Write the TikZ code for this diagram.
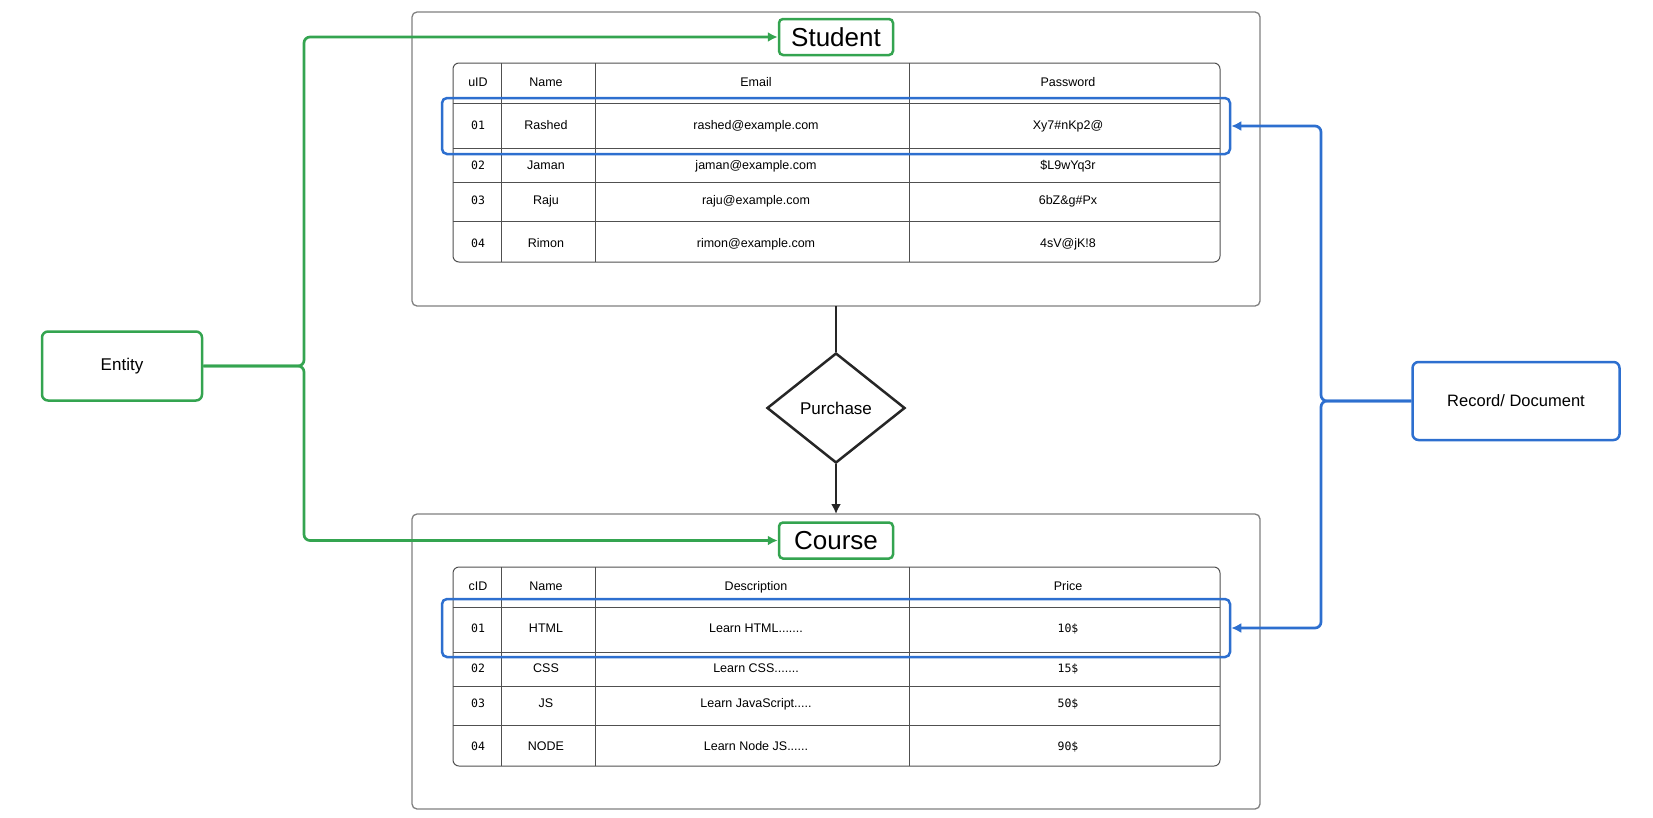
\documentclass[tikz,border=0pt]{standalone}
\usepackage{fontspec}
\setmainfont{Liberation Sans}
\newfontfamily\idfont{DejaVu Sans Mono}
\usetikzlibrary{shapes.geometric,arrows.meta}

\definecolor{entgreen}{RGB}{52,164,80}
\definecolor{recblue}{RGB}{45,111,207}
\definecolor{framegray}{RGB}{128,128,128}
\definecolor{linegray}{RGB}{80,80,80}

\tikzset{
  frame/.style={draw=framegray,line width=1.3pt,rounded corners=5pt,outer sep=0pt},
  tablebox/.style={draw=linegray,line width=1pt,rounded corners=6pt},
  tableline/.style={draw=linegray,line width=0.9pt},
  cell/.style={font=\fontsize{12.5}{14}\selectfont,inner sep=0pt,text height=9pt,text depth=2.5pt},
  idcell/.style={font=\idfont\fontsize{11.5}{14}\selectfont,inner sep=0pt,text height=9pt,text depth=2.5pt},
  title/.style={draw=entgreen,fill=white,line width=2.5pt,rounded corners=4pt,
    font=\fontsize{26}{30}\selectfont,minimum width=114pt,minimum height=36pt,inner sep=0pt},
  greenbox/.style={draw=entgreen,line width=2.5pt,rounded corners=6pt,font=\fontsize{17}{20}\selectfont},
  bluebox/.style={draw=recblue,line width=2.5pt,rounded corners=6pt,font=\fontsize{16.5}{20}\selectfont},
  highlight/.style={draw=recblue,line width=2.5pt,rounded corners=5pt},
  decision/.style={diamond,draw=black!85,line width=2.5pt,minimum width=138pt,minimum height=110pt,
    inner sep=0pt,font=\fontsize{17}{20}\selectfont},
  conn/.style={draw=black!85,line width=2.7pt},
  greenline/.style={draw=entgreen,line width=2.7pt,rounded corners=6pt},
  blueline/.style={draw=recblue,line width=2.7pt,rounded corners=6pt}
}

\begin{document}
\begin{tikzpicture}[x=1pt,y=-1pt,>={Latex[length=10pt,width=10pt]}]
\useasboundingbox (0,0) rectangle (1653,817);

% the two entities
\node[frame,minimum width=848pt,minimum height=294pt] (sframe) at (836,159) {};
\node[frame,minimum width=848pt,minimum height=295pt] (cframe) at (836,661.5) {};
\node[title] (student) at (836,37) {Student};
\node[title] (course) at (836,540.5) {Course};

% student table
\draw[tablebox] (453,63) rectangle (1220,262);
\foreach \x in {501,595,909} \draw[tableline] (\x,63) -- (\x,262);
\foreach \y in {103,148,182,221} \draw[tableline] (453,\y) -- (1220,\y);
\node[cell] (sh1) at (478,83) {uID};
\node[cell] (sh2) at (546,83) {Name};
\node[cell] (sh3) at (756,83) {Email};
\node[cell] (sh4) at (1068,83) {Password};
\foreach \i/\y/\n/\m/\p in {1/126/Rashed/rashed@example.com/Xy7\#nKp2@,
    2/166/Jaman/jaman@example.com/\$L9wYq3r,
    3/201/Raju/raju@example.com/6bZ\&g\#Px,
    4/244/Rimon/rimon@example.com/4sV@jK!8}{
  \node[idcell] (sid\i) at (478,\y) {0\i};
  \node[cell] (sname\i) at (546,\y) {\n};
  \node[cell] (smail\i) at (756,\y) {\m};
  \node[cell] (spass\i) at (1068,\y) {\p};
}

% course table
\draw[tablebox] (453,567) rectangle (1220,766);
\foreach \x in {501,595,909} \draw[tableline] (\x,567) -- (\x,766);
\foreach \y in {607,652,686,725} \draw[tableline] (453,\y) -- (1220,\y);
\node[cell] (ch1) at (478,587) {cID};
\node[cell] (ch2) at (546,587) {Name};
\node[cell] (ch3) at (756,587) {Description};
\node[cell] (ch4) at (1068,587) {Price};
\foreach \i/\y/\n/\d/\p in {1/629/HTML/Learn HTML.{}.{}.{}.{}.{}.{}./10\$,
    2/669/CSS/Learn CSS.{}.{}.{}.{}.{}.{}./15\$,
    3/704/JS/Learn JavaScript.{}.{}.{}.{}./50\$,
    4/747/NODE/Learn Node JS.{}.{}.{}.{}.{}./90\$}{
  \node[idcell] (cid\i) at (478,\y) {0\i};
  \node[cell] (cname\i) at (546,\y) {\n};
  \node[cell] (cdesc\i) at (756,\y) {\d};
  \node[idcell] (cprice\i) at (1068,\y) {\p};
}

% relation
\node[decision] (purchase) at (836,408) {Purchase};
\draw[conn] (sframe.south) -- (purchase.north);
\draw[conn,->] (purchase.south) -- (cframe.north);

% labels on the left and right
\node[greenbox,minimum width=160pt,minimum height=69pt] (entity) at (122,366) {Entity};
\node[bluebox,minimum width=207pt,minimum height=78pt] (record) at (1516,401) {Record/ Document};

\node[highlight,minimum width=788pt,minimum height=56pt] (srow) at (836,126) {};
\node[highlight,minimum width=788pt,minimum height=58pt] (crow) at (836,628) {};

\coordinate (ej) at (304,366);
\draw[greenline,->] (entity.east) -- (ej) |- (student.west);
\draw[greenline,->] (entity.east) -- (ej) |- (course.west);

\coordinate (rj) at (1321,401);
\draw[blueline,->] (record.west) -- (rj) |- (srow.east);
\draw[blueline,->] (record.west) -- (rj) |- (crow.east);
\end{tikzpicture}
\end{document}
